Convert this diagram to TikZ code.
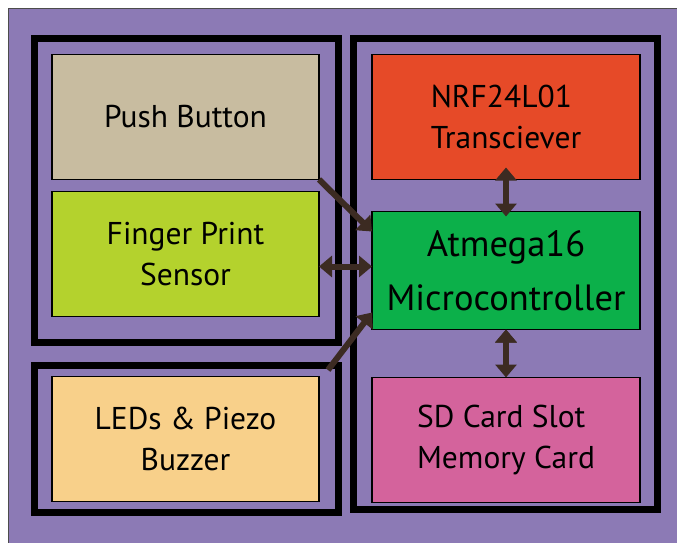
\documentclass[tikz,border=0pt]{standalone}
\usepackage{fontspec}
\setmainfont{PT Sans}
\usetikzlibrary{arrows.meta,positioning}
\definecolor{bgpurple}{RGB}{140,122,181}
\definecolor{pushgrey}{RGB}{200,188,160}
\definecolor{fingergreen}{RGB}{180,210,45}
\definecolor{ledorange}{RGB}{248,208,138}
\definecolor{nrfred}{RGB}{230,74,40}
\definecolor{atmegagreen}{RGB}{12,176,74}
\definecolor{sdpink}{RGB}{212,99,156}
\definecolor{arrowbrown}{RGB}{60,43,34}

\begin{document}
\begin{tikzpicture}[x=1pt,y=-1pt,>={Triangle[width=21pt,length=13pt]},node distance=12pt,
	block/.style={draw,line width=1.6pt,minimum width=267pt,minimum height=125pt,inner sep=0pt,outer sep=0pt,align=center,font=\fontsize{31.5}{41}\selectfont},
	groupframe/.style={line width=7pt},
	link/.style={draw=arrowbrown,line width=6pt,->}]
	\useasboundingbox (0,0) rectangle (677,543);
	\fill[bgpurple] (8,9) rectangle (677,543);
	\draw[black!70,line width=1pt] (8,543) -- (8,9) -- (677,9);

	% group frames
	\draw[groupframe] (34.5,39) rectangle (338.5,342);
	\draw[groupframe] (34.5,365.5) rectangle (338.5,512);
	\draw[groupframe] (353.5,39) rectangle (657.5,509.5);

	\node[block,fill=pushgrey] (push) at (185.5,117) {Push Button};
	\node[block,fill=fingergreen] (finger) [below=of push] {Finger Print\\Sensor};
	\node[block,fill=ledorange] (leds) [below=60pt of finger] {LEDs \& Piezo\\Buzzer};

	\node[block,fill=nrfred,minimum width=268pt,align=left] (nrf) [right=53pt of push] {NRF24L01\\Transciever};
	\node[block,fill=atmegagreen,minimum width=268pt,minimum height=118pt,font=\fontsize{36.5}{54}\selectfont] (atmega) [below=32pt of nrf] {Atmega16\\Microcontroller};
	\node[block,fill=sdpink,minimum width=268pt,align=left] (sd) [below=48pt of atmega] {SD Card Slot\\Memory Card};

	\coordinate (fp) at ([yshift=-12.5pt]finger.east);
	\coordinate (ledcorner) at (328,370);

	\path[link]
	(push.south east) edge [link] ([yshift=-20pt]atmega.north west)
	(fp) edge [link,<->] (fp -| atmega.west)
	(ledcorner) edge [link] ([yshift=17pt]atmega.south west)

	([yshift=12pt]nrf.south) edge [link,<->] ([yshift=-5pt]atmega.north)
	(atmega.south) edge [link,<->] (sd.north)
	;
\end{tikzpicture}
\end{document}
